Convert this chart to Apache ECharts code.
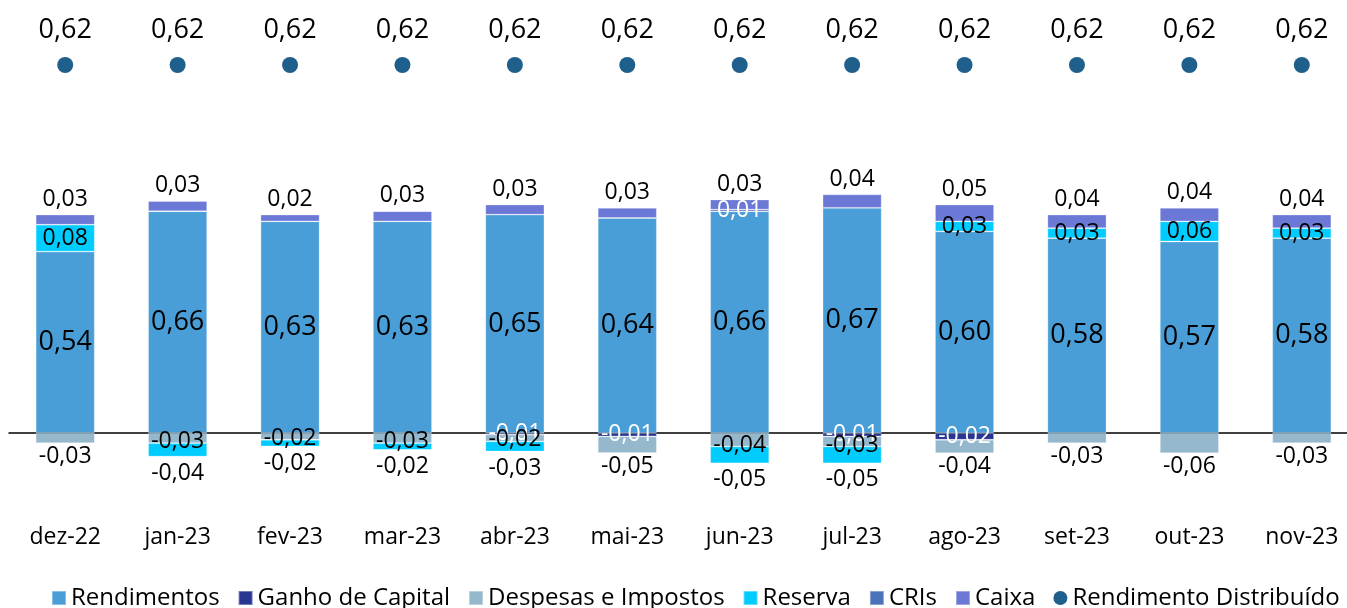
<!DOCTYPE html>
<html>
<head>
<meta charset="utf-8">
<script src="https://cdn.jsdelivr.net/npm/echarts@6/dist/echarts.min.js"></script>
<style>
html,body{margin:0;padding:0;background:#fff;}
#chart{width:1347px;height:608px;}
</style>
</head>
<body>
<div id="chart"></div>
<script>
const categories = ['dez-22','jan-23','fev-23','mar-23','abr-23','mai-23','jun-23','jul-23','ago-23','set-23','out-23','nov-23'];
const rendimentos = [0.54,0.66,0.63,0.63,0.65,0.64,0.66,0.67,0.60,0.58,0.57,0.58];
const ganhoCapital = [0,0,0,0,-0.005,-0.01,0.005,-0.01,-0.02,0,0,0];
const despesas = [-0.03,-0.03,-0.02,-0.03,-0.02,-0.05,-0.04,-0.03,-0.04,-0.03,-0.06,-0.03];
const reserva = [0.08,-0.04,-0.02,-0.02,-0.03,0,-0.05,-0.05,0.03,0.03,0.06,0.03];
const cris = [0,0,0,0,0,0,0,0,0,0,0,0];
const caixa = [0.03,0.03,0.02,0.03,0.03,0.03,0.03,0.04,0.05,0.04,0.04,0.04];
const rendimentoDistribuido = [0.62,0.62,0.62,0.62,0.62,0.62,0.62,0.62,0.62,0.62,0.62,0.62];

const FONT = '"Open Sans", sans-serif';
const fmt = v => {
  const n = (typeof v === 'object' && v !== null) ? v.value : v;
  if (!n) return '';
  return n.toFixed(2).replace('.', ',');
};
const lblFmt = p => fmt(p.value);

const colors = {
  rend: '#4A9ED7',
  ganho: '#283593',
  desp: '#95B8CD',
  res: '#00CCFF',
  cris: '#4A72B8',
  caixa: '#6B78D6',
  dot: '#1F5F8B'
};

function barSeries(name, data, color, labelFn) {
  return {
    name, type: 'bar', stack: 'total', barWidth: 59,
    itemStyle: { color, borderColor: 'rgba(255,255,255,0.35)', borderWidth: 0.8 },
    data: data.map((v, i) => {
      const item = { value: v };
      const l = labelFn ? labelFn(v, i) : null;
      if (l) item.label = l;
      return item;
    }),
    label: { show: true, formatter: lblFmt, fontFamily: FONT, fontSize: 23, color: '#000' }
  };
}

const series = [
  barSeries('Rendimentos', rendimentos, colors.rend, () => ({ position: 'inside', fontSize: 27 })),
  barSeries('Ganho de Capital', ganhoCapital, colors.ganho, () => ({ position: 'inside', color: '#fff' })),
  barSeries('Despesas e Impostos', despesas, colors.desp, (v, i) =>
    reserva[i] < 0 ? { position: 'bottom', distance: -13 } : { position: 'bottom', distance: 2 }),
  barSeries('Reserva', reserva, colors.res, (v) =>
    v < 0 ? { position: 'bottom', distance: 5 } : { position: 'inside' }),
  barSeries('CRIs', cris, colors.cris, () => ({ show: false })),
  barSeries('Caixa', caixa, colors.caixa, () => ({ position: 'top', distance: 4 })),
  {
    name: 'Rendimento Distribuído', type: 'scatter', yAxisIndex: 1,
    symbol: 'circle', symbolSize: 16,
    itemStyle: { color: colors.dot, opacity: 1 },
    data: rendimentoDistribuido,
    label: { show: true, position: 'top', distance: 13, formatter: lblFmt, fontFamily: FONT, fontSize: 27, color: '#000' }
  }
];

const chart = echarts.init(document.getElementById('chart'), null, { renderer: 'canvas' });
chart.setOption({
  animation: false,
  backgroundColor: '#fff',
  textStyle: { fontFamily: FONT },
  grid: { left: 9, right: -11, top: 29.8, bottom: 96, containLabel: false, outerBoundsMode: 'none' },
  legend: {
    bottom: -7, left: 46, itemWidth: 14, itemHeight: 14, itemGap: 18,
    textStyle: { fontFamily: FONT, fontSize: 24, color: '#000' },
    data: [
      { name: 'Rendimentos', icon: 'rect' },
      { name: 'Ganho de Capital', icon: 'rect' },
      { name: 'Despesas e Impostos', icon: 'rect' },
      { name: 'Reserva', icon: 'rect' },
      { name: 'CRIs', icon: 'rect' },
      { name: 'Caixa', icon: 'rect' },
      { name: 'Rendimento Distribuído', icon: 'circle' }
    ]
  },
  xAxis: {
    type: 'category', data: categories,
    axisLine: { show: true, onZero: true, onZeroAxisIndex: 0, lineStyle: { color: '#000', width: 1.5 } },
    axisTick: { show: false },
    axisLabel: { margin: 13, fontFamily: FONT, fontSize: 23, color: '#000', lineHeight: 24 }
  },
  yAxis: [
    { type: 'value', min: -0.235, max: 1.2, show: false, splitLine: { show: false } },
    { type: 'value', min: 0, max: 0.6688, show: false, splitLine: { show: false } }
  ],
  series
});
</script>
</body>
</html>
